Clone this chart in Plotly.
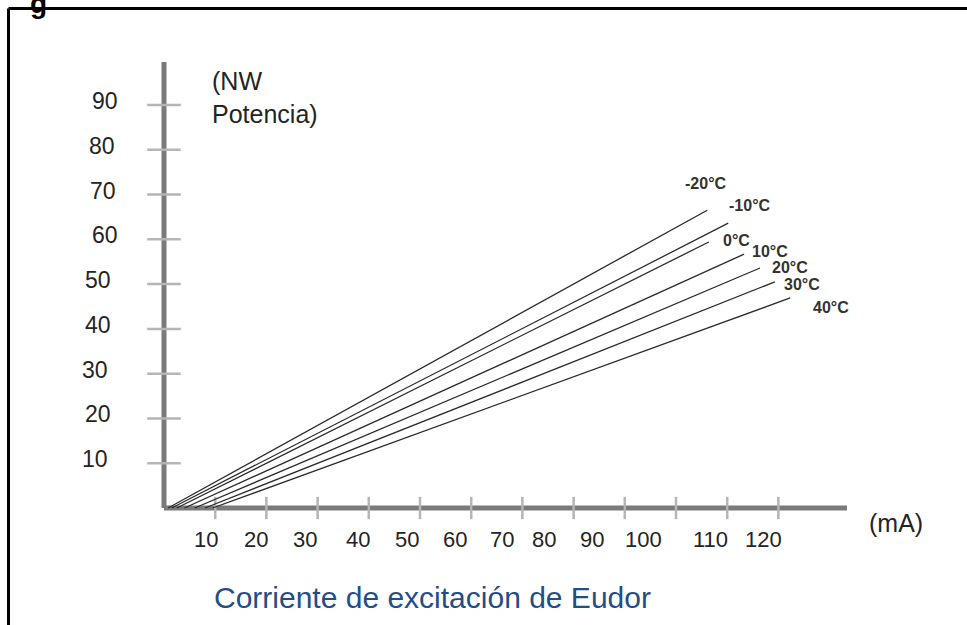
import plotly.graph_objects as go

# ---------------- data ----------------
temps = ["-20°C", "-10°C", "0°C", "10°C", "20°C", "30°C", "40°C"]
line_x_start = [0.8, 1.5, 2.5, 4.0, 6.0, 8.0, 9.5]
line_y_start = [0, 0, 0, 0, 0, 0, 0]
line_x_end = [106.1, 110.2, 106.4, 113.3, 116.4, 119.3, 122.3]
line_y_end = [66.5, 63.6, 59.4, 56.7, 53.6, 50.5, 46.9]

y_ticks = [10, 20, 30, 40, 50, 60, 70, 80, 90]
y_tick_labels = ["10", "20", "30", "40", "50", "60", "70", "80", "90"]
x_ticks = [10, 20, 30, 40, 50, 60, 70, 80, 90, 100, 110, 120]
x_tick_labels = ["10", "20", "30", "40", "50", "60", "70", "80", "90", "100", "110", "120"]

x_axis_max = 133.4
y_axis_max = 99.6

# ---------------- styling offsets (pixels) ----------------
temp_label_shift = [(-1.5, 27), (22, 18), (28, 2), (25.5, 3), (30.5, 0), (27.5, -3), (40.5, -10)]
x_label_shift = [-9, -10, -13, -11, -13, -16, -20, -30, -33, -33, -17, -15]
y_label_shift = [-54, -51, -54, -51, -51, -44, -46, -47, -44]

W, H = 967, 625
# pixel mapping: x_px = 164 + 5.12*v ; y_px = 508 - 4.478*v
XR = [(0 - 164) / 5.12, (W - 164) / 5.12]
YR = [(508 - H) / 4.478, 508 / 4.478]

FONT = "Liberation Sans, Arial"
TXT = "#242424"

fig = go.Figure()

# axis lines
fig.add_trace(go.Scatter(x=[0, 0], y=[0, y_axis_max], mode="lines",
                         line=dict(color="#7a7a7a", width=5), hoverinfo="skip"))
fig.add_trace(go.Scatter(x=[0, x_axis_max], y=[0, 0], mode="lines",
                         line=dict(color="#7a7a7a", width=5), hoverinfo="skip"))

# tick marks
fig.add_trace(go.Scatter(x=[0] * len(y_ticks), y=y_ticks, mode="markers",
                         marker=dict(symbol="line-ew", size=24,
                                     line=dict(color="#b5b5b5", width=2.5)),
                         hoverinfo="skip"))
fig.add_trace(go.Scatter(x=x_ticks, y=[0] * len(x_ticks), mode="markers",
                         marker=dict(symbol="line-ns", size=16,
                                     line=dict(color="#b5b5b5", width=2.5)),
                         hoverinfo="skip"))

# temperature lines
for i, t in enumerate(temps):
    fig.add_trace(go.Scatter(x=[line_x_start[i], line_x_end[i]],
                             y=[line_y_start[i], line_y_end[i]],
                             mode="lines", line=dict(color="#2a2a2a", width=1.3),
                             name=t, hoverinfo="skip"))

ann = []
for i, t in enumerate(temps):
    dx, dy = temp_label_shift[i]
    ann.append(dict(x=line_x_end[i], y=line_y_end[i], xref="x", yref="y",
                    text="<b>" + t + "</b>", showarrow=False, xshift=dx, yshift=dy,
                    font=dict(family=FONT, size=16, color="#333333")))

for v, lab, s in zip(y_ticks, y_tick_labels, y_label_shift):
    ann.append(dict(x=0, y=v, xref="x", yref="y", text=lab, showarrow=False,
                    xanchor="right", xshift=s, yshift=4,
                    font=dict(family=FONT, size=23, color=TXT)))

for v, lab, s in zip(x_ticks, x_tick_labels, x_label_shift):
    ann.append(dict(x=v, y=0, xref="x", yref="y", text=lab, showarrow=False,
                    xanchor="center", yanchor="middle", xshift=s, yshift=-31,
                    font=dict(family=FONT, size=22, color=TXT)))

# axis titles
ann.append(dict(x=0, y=y_axis_max, xref="x", yref="y", text="(NW<br>Potencia)",
                showarrow=False, xanchor="left", yanchor="top", align="left",
                xshift=46, yshift=-3,
                font=dict(family=FONT, size=25, color=TXT)))
ann.append(dict(x=x_axis_max, y=0, xref="x", yref="y", text="(mA)", showarrow=False,
                xanchor="left", yanchor="middle", xshift=20, yshift=-15,
                font=dict(family=FONT, size=25, color=TXT)))

# caption
ann.append(dict(x=432 / W, y=1 - 597 / H, xref="paper", yref="paper",
                text="Corriente de excitación de Eudor", showarrow=False,
                xanchor="center", yanchor="middle",
                font=dict(family=FONT, size=30, color="#1f4e8a")))

# partial heading glyph at top (cut off in the source image)
ann.append(dict(x=38 / W, y=1.0, xref="paper", yref="paper", text="<b>g</b>",
                showarrow=False, xanchor="center", yanchor="middle", yshift=-3,
                font=dict(family=FONT, size=28, color="#000000")))

shapes = [
    dict(type="line", xref="paper", yref="paper", x0=8.5 / W, x1=1.0, y0=1 - 8.5 / H, y1=1 - 8.5 / H,
         line=dict(color="#000000", width=3)),
    dict(type="line", xref="paper", yref="paper", x0=8.5 / W, x1=8.5 / W, y0=1 - 8.5 / H, y1=-0.05,
         line=dict(color="#000000", width=3)),
]

fig.update_layout(
    width=W, height=H, margin=dict(l=0, r=0, t=0, b=0),
    paper_bgcolor="white", plot_bgcolor="white", showlegend=False,
    xaxis=dict(range=XR, visible=False, fixedrange=True),
    yaxis=dict(range=YR, visible=False, fixedrange=True),
    annotations=ann, shapes=shapes,
)

fig.write_html("out.html", config={"displayModeBar": False},
               post_script="document.body.style.margin='0';document.body.style.overflow='hidden';")
